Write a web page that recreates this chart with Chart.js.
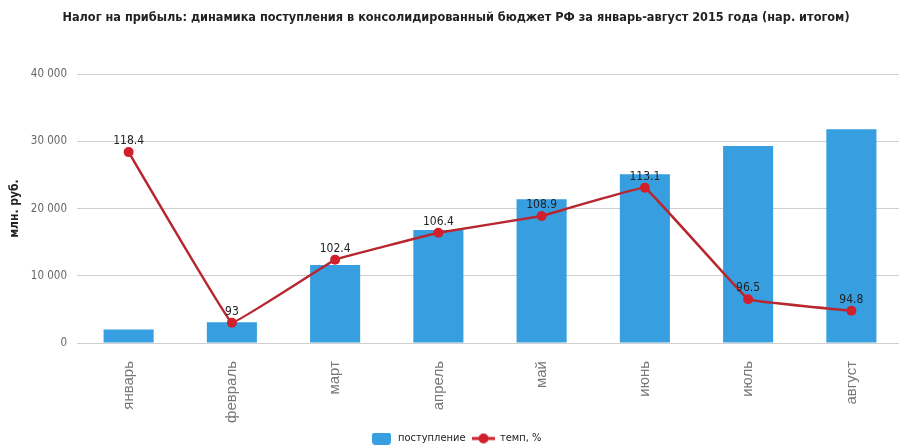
<!DOCTYPE html>
<html>
<head>
<meta charset="utf-8">
<script src="https://cdn.jsdelivr.net/npm/chart.js@4.4.1/dist/chart.umd.min.js"></script>
<style>
html,body{margin:0;padding:0;background:#fff;overflow:hidden;}
#wrap{width:899px;height:445px;position:relative;overflow:hidden;}
</style>
</head>
<body>
<div id="wrap"><canvas id="c" width="908" height="445"></canvas></div>
<script>
const titleText = 'Налог на прибыль: динамика поступления в консолидированный бюджет РФ за январь-август 2015 года (нар. итогом)';
const categories = ['январь','февраль','март','апрель','май','июнь','июль','август'];
const receipts = [2000, 3100, 11600, 16800, 21400, 25100, 29300, 31800];
const growth = [118.4, 93, 102.4, 106.4, 108.9, 113.1, 96.5, 94.8];
const growthLabels = ['118.4','93','102.4','106.4','108.9','113.1','96.5','94.8'];
const yTicks = [0, 10000, 20000, 30000, 40000];

const NARROW = '"Liberation Sans Narrow", "DejaVu Sans Condensed", sans-serif';
const BLUE = '#379fe0';
const RED = '#b8262f';

function makeBarIcon(){
  const c = document.createElement('canvas'); c.width = 19; c.height = 12;
  const g = c.getContext('2d'); g.fillStyle = BLUE;
  g.beginPath(); g.roundRect(0,0,19,12,3); g.fill(); return c;
}
function makeLineIcon(){
  const c = document.createElement('canvas'); c.width = 23; c.height = 12;
  const g = c.getContext('2d'); g.strokeStyle = '#cc1f2a'; g.lineWidth = 3;
  g.beginPath(); g.moveTo(0,6); g.lineTo(23,6); g.stroke();
  g.fillStyle = '#d0202c'; g.beginPath(); g.arc(11.5,6,5,0,Math.PI*2); g.fill(); return c;
}
const icons = [makeBarIcon(), makeLineIcon()];

const valueLabels = {
  id: 'valueLabels',
  afterDatasetsDraw(chart){
    const meta = chart.getDatasetMeta(1);
    const ctx = chart.ctx;
    ctx.save();
    ctx.font = '12px ' + NARROW;
    ctx.fillStyle = '#222';
    ctx.textAlign = 'center';
    ctx.textBaseline = 'bottom';
    meta.data.forEach((p, i) => {
      ctx.fillText(growthLabels[i], p.x, p.y - 5);
    });
    ctx.restore();
  }
};

new Chart(document.getElementById('c'), {
  data: {
    labels: categories,
    datasets: [
      {
        type: 'bar', label: 'поступление', data: receipts,
        backgroundColor: BLUE, yAxisID: 'y', order: 2,
        categoryPercentage: 1.0, barPercentage: 0.485
      },
      {
        type: 'line', label: 'темп, %', data: growth,
        borderColor: RED, borderWidth: 2.5, tension: 0.04,
        pointRadius: 5, pointBackgroundColor: '#d0202c', pointBorderColor: '#d0202c',
        pointBorderWidth: 0, yAxisID: 'y1', order: 1
      }
    ]
  },
  options: {
    responsive: false,
    animation: false,
    layout: { padding: { left: 4, right: 0, top: 4, bottom: -9 } },
    plugins: {
      title: {
        display: true, text: titleText, color: '#222',
        font: { family: NARROW, size: 12.6, weight: 'bold' },
        padding: { top: 6, bottom: 49 }
      },
      legend: {
        position: 'bottom',
        labels: {
          usePointStyle: true, pointStyleWidth: 22, color: '#222',
          font: { family: NARROW, size: 11 },
          boxWidth: 22, boxHeight: 12, padding: 7,
          sort: (a, b) => a.datasetIndex - b.datasetIndex,
          generateLabels(chart){
            const items = Chart.defaults.plugins.legend.labels.generateLabels(chart);
            items.forEach(it => { it.pointStyle = icons[it.datasetIndex]; });
            return items;
          }
        }
      },
      tooltip: { enabled: false }
    },
    scales: {
      x: {
        grid: { display: false },
        border: { display: false },
        afterFit(scale){ scale.height = 83; },
        ticks: {
          maxRotation: 90, minRotation: 90, color: '#777', padding: 10,
          font: { family: '"Liberation Sans", Arial, sans-serif', size: 15 }
        }
      },
      y: {
        min: 0, max: 40000,
        afterBuildTicks(axis){ axis.ticks = yTicks.map(v => ({ value: v })); },
        afterFit(scale){ scale.width = 73; },
        grid: { color: '#cfcfcf', lineWidth: 1, drawTicks: false },
        border: { display: false },
        ticks: {
          color: '#666', padding: 10,
          font: { family: NARROW, size: 11.5 },
          callback: v => v === 0 ? '0' : String(v).replace(/\B(?=(\d{3})+(?!\d))/g, ' ')
        },
        title: {
          display: true, text: 'млн. руб.', color: '#222',
          font: { family: NARROW, size: 12, weight: 'bold' }, padding: { top: 3.8, bottom: 0 }
        }
      },
      y1: {
        display: false, min: 90, max: 130
      }
    }
  },
  plugins: [valueLabels]
});
</script>
</body>
</html>
